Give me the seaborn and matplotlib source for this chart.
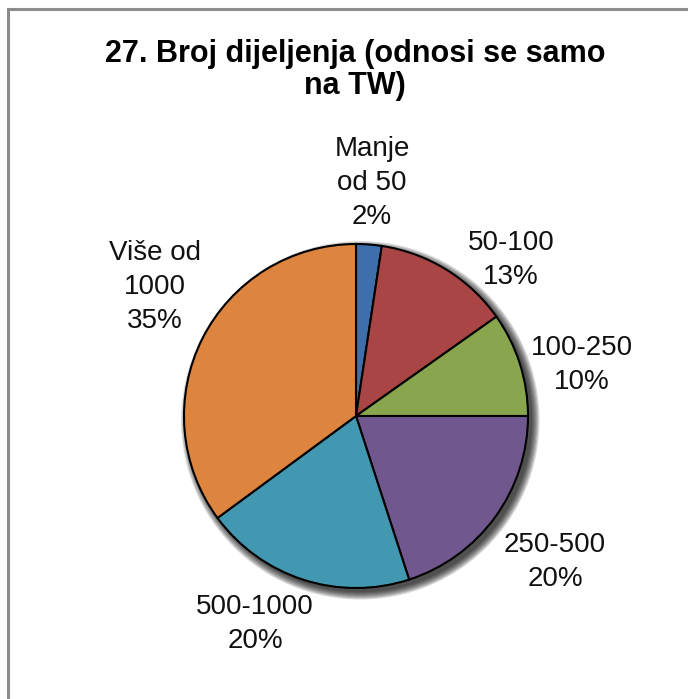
import matplotlib
matplotlib.use("Agg")
import matplotlib.pyplot as plt
import seaborn as sns
from matplotlib.patches import Rectangle

categories = ["Manje\nod 50", "50-100", "100-250", "250-500", "500-1000", "Više od\n1000"]
values = [2.4, 12.8, 9.8, 20.0, 19.9, 35.1]
pct_labels = ["2%", "13%", "10%", "20%", "20%", "35%"]
colors = ["#3F6FAA", "#A94645", "#89A64E", "#70588F", "#4298B1", "#DD843E"]
title = "27. Broj dijeljenja (odnosi se samo\nna TW)"

# label positions in pie-radius units (layout only)
label_pos = [(0.093, 1.355), (0.901, 0.907), (1.314, 0.297),
             (1.157, -0.849), (-0.587, -1.209), (-1.169, 0.750)]

sns.set_theme(style="white")
plt.rcParams["font.family"] = ["Liberation Sans", "DejaVu Sans"]

W, H = 688, 699
fig = plt.figure(figsize=(W / 100, H / 100), dpi=100)
fig.patch.set_facecolor("white")
ax = fig.add_axes([0, 0, 1, 1])
ax.set_axis_off()

R = 172.0
cx, cy = 356.0, 416.0

# soft shadow
for k in range(7):
    ax.pie([1], radius=1.0 + 0.007 * k, colors=["black"], center=(0.025, -0.025),
           wedgeprops=dict(alpha=0.15, linewidth=0))

wedges, _ = ax.pie(values, colors=colors, startangle=90, counterclock=False,
                   radius=1.0, center=(0, 0),
                   wedgeprops=dict(edgecolor="black", linewidth=1.5))
ax.set_xlim(-cx / R, (W - cx) / R)
ax.set_ylim(-(H - cy) / R, cy / R)
ax.set_aspect("auto")

for cat, pct, (x, y) in zip(categories, pct_labels, label_pos):
    ax.text(x, y, f"{cat}\n{pct}", ha="center", va="center", fontsize=20,
            color="#111111", linespacing=1.38)

fig.text(355 / W, 1 - 70 / H, title, ha="center", va="center", fontsize=22,
         fontweight="bold", color="black", linespacing=1.1)

fig.patches.append(Rectangle((7.5 / W, -0.1), 1.2, 1 - 8.5 / H + 0.1,
                             transform=fig.transFigure, fill=False,
                             edgecolor="#8c8c8c", linewidth=2.2))

fig.savefig("out.png", dpi=100)
